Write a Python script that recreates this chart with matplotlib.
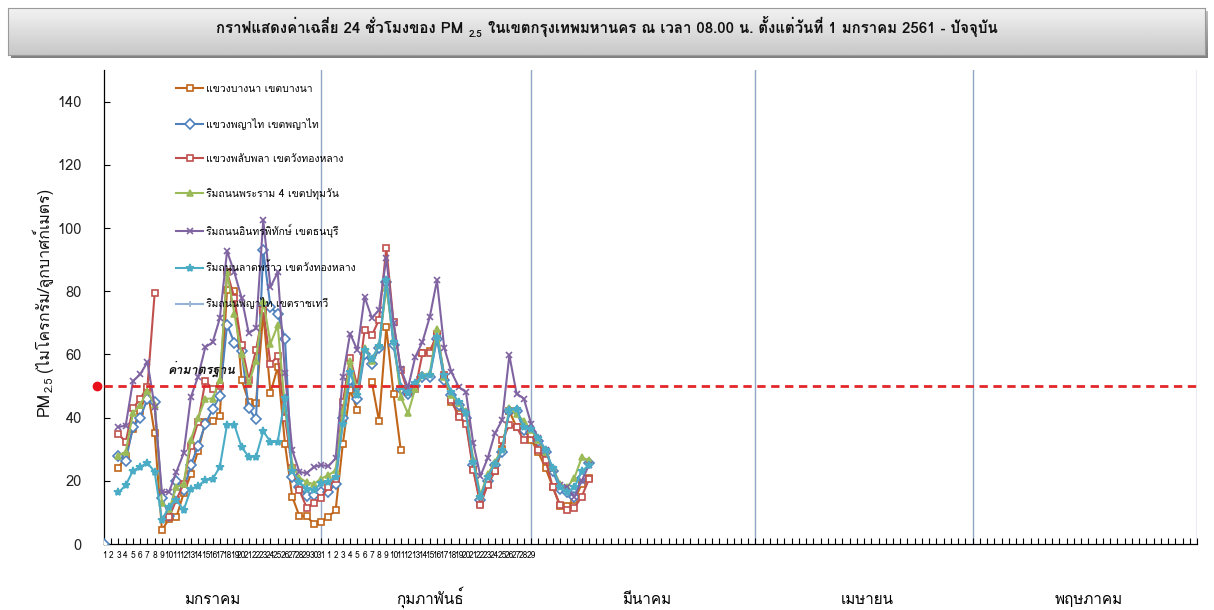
import numpy as np
import matplotlib
matplotlib.use("Agg")
import matplotlib.pyplot as plt
from matplotlib import font_manager, ft2font
from matplotlib.transforms import IdentityTransform

# ---- fonts: find something installed that can draw Thai ----
def thai_families():
    found = []
    for f in font_manager.fontManager.ttflist:
        try:
            cmap = ft2font.FT2Font(f.fname).get_charmap()
        except Exception:
            continue
        if 0x0E01 in cmap and 0x0E2A in cmap and f.name not in found:
            found.append(f.name)
    return found

thai = thai_families()
plt.rcParams["font.family"] = thai + ["DejaVu Sans"]
plt.rcParams["mathtext.fontset"] = "dejavusans"

# ---- data ----
month_names = ["มกราคม", "กุมภาพันธ์", "มีนาคม", "เมษายน", "พฤษภาคม"]
month_days = [31, 29, 31, 30, 31]
labelled_months = 2  # only Jan / Feb have day numbers
standard = 50

station_names = [
    "แขวงบางนา เขตบางนา",
    "แขวงพญาไท เขตพญาไท",
    "แขวงพลับพลา เขตวังทองหลาง",
    "ริมถนนพระราม 4 เขตปทุมวัน",
    "ริมถนนอินทรพิทักษ์ เขตธนบุรี",
    "ริมถนนลาดพร้าว เขตวังทองหลาง",
    "ริมถนนพญาไท เขตราชเทวี",
]

N = None
# values from 1 Jan (index 0), None = no reading
bangna = [N, N, 24, 28, 36.5, 42, 49, 35, 4.4, 8, 8.5, 16, 22, 29.5, 38.6, 38.9, 40.5,
          80.5, 80, 52, 45, 44.6, 73, 47.8, 56, 31.8, 15, 8.8, 8.8, 6.3, 7.1,
          8.6, 10.7, 31.8, 48.7, 42.5, N, 51.2, 38.9, 68.6, 47.4, 29.7, N, N, 60.3, 61,
          66, 53, 45, 41, 39, 24, 13, 19, 23, 30, 42, 37, 36, 33,
          29, 24, 18, 12, 12, 14, 19, 21]
phayathai = [0, N, 28, 26.3, 37, 40, 45.9, 45, 14.4, 9, 20, 17, 25, 31, 38, 42.6, 46.8,
             69.4, 63.7, 61.1, 42.9, 39.5, 92.9, 75, 72.7, 65, 21.3, 18.1, 15.2, 15.5, 16.5,
             16.5, 19, 40, 52, 46, 60, 57, 62, 83, 63, 49, 47.5, 50, 53, 53,
             65, 52, 47, 44, 40, 25, 14, 20, 25, 29, 42, 42, 36, 35.5,
             32.5, 29, 23, 17.5, 16.5, 15, 21, 25.5]
phlapphla = [N, N, 34.8, 32.3, 42.9, 46, 49.7, 79.4, N, 8.5, 14, 19, 31, 38.7, 51.5, 49.2, 50,
             86, 78, 63, 52, 61.3, 74, 57, 59.5, 40, 24, 17, 11.5, 13, 14.7,
             18, 20.7, 44.9, 59, 50, 67.6, 66, 71, 93.7, 70.2, 55, 48, 49, 60.3, 60.3,
             66.6, 53.4, 45.5, 40.2, 38.1, 23.5, 12.4, 18.7, 23, 33, 37.6, 37, 32.8, 34.9,
             29.7, 26.5, 18, 12.4, 10.7, 11.5, 15, 20.5]
rama4 = [N, N, 28, 29.2, 41.4, 44, 48.5, 44, 13, 11, 18, 19, 33, 40, 46, 46, 52,
         86, 72.9, 60, 50.8, 58, 77, 63.4, 69.2, 43, 25, 21, 19.5, 19, 20.7,
         21.8, 23.3, 42, 58, 48, 62, 58, 63, 81, 65, 46.5, 41.3, 49.2, 53.5, 54,
         68, 53, 47, 44.5, 42, 27, 15.5, 22, 26, 30, 43, 41, 39, 36,
         33, 29, 24, 19, 18, 21, 27.4, 26.5]
inthraphithak = [N, N, 37, 37.5, 51.5, 53.7, 57.6, 43.4, 16.3, 16.6, 22.8, 28.7, 46.5, 53, 62.3, 63.8, 71.4,
                 92.7, 86, 78, 66.7, 68.2, 102.4, 81.3, 86, 54.1, 29.7, 22.8, 22.4, 24.4, 25,
                 24.6, 27.1, 52.9, 66.6, 61.3, 78.2, 71.6, 74, 90.5, 69.8, 55.5, 49.4, 59.2, 64, 71.8,
                 83.4, 62.1, 54.4, 49.7, 48.1, 32, 21.5, 27.1, 35, 39.2, 59.7, 47.6, 46, 38.1,
                 33.4, 29.7, 23.6, 18.6, 18, 15, 20, 25]
latphrao = [N, N, 16.3, 18.6, 23.2, 24.4, 25.7, 22.8, 7.6, 11.8, 14, 10.7, 17.4, 18.4, 20.2, 20.5, 24.4,
            37.8, 37.8, 30.7, 27.6, 27.6, 35.7, 32.3, 32.3, 46.3, 23, 19.5, 17.5, 17, 19.2,
            19.7, 21.3, 38, 54.5, 47, 61.3, 58.7, 62.6, 83.4, 64, 49.7, 47.7, 51, 53.1, 53.4,
            65.5, 53.4, 48.1, 45, 41.3, 26, 14.9, 21.3, 25.4, 29.7, 42.3, 42.8, 37, 36.5,
            33.4, 29.9, 23.9, 18.1, 16.5, 18, 23, 25]
phayathai_road = []  # in the legend, no readings drawn

series = [bangna, phayathai, phlapphla, rama4, inthraphithak, latphrao, phayathai_road]
colors = ["#C0651A", "#4F81BD", "#C0504D", "#9BBB59", "#8064A2", "#4BACC6", "#95B3D7"]
markers = ["s", "D", "s", "^", "x", "*", "+"]
hollow = [True, True, True, False, False, False, False]

n_days = sum(month_days)
x = np.arange(n_days)

def padded(vals):
    arr = np.full(n_days, np.nan)
    for i, v in enumerate(vals):
        if v is not None:
            arr[i] = v
    return arr

# ---- figure ----
W, H = 1214, 610
fig = plt.figure(figsize=(W / 100, H / 100), dpi=100)
ax = fig.add_axes([104 / W, 1 - 544 / H, 1093 / W, 474 / H])

for vals, name, c, m, h in zip(series, station_names, colors, markers, hollow):
    ax.plot(x, padded(vals), color=c, lw=1.5, marker=m, ms=5 if m != "*" else 6,
            mfc="white" if h else c, mec=c, mew=1.2, label=name, zorder=3)

# month separators
ends = np.cumsum(month_days) - 1
for e in ends:
    ax.axvline(e, color="#8FA6C4", lw=1, zorder=1)

# standard line
ax.axhline(standard, color="#E3262A", lw=2, ls=(0, (3, 2)), zorder=4)
ax.plot([-1], [standard], "o", color="#E8101A", ms=6, clip_on=False, zorder=5)
ax.text(8.8, standard + 3.8, "ค่ามาตรฐาน", fontsize=9, fontweight="bold",
        style="italic", color="#111111", zorder=6)

ax.set_xlim(0, n_days - 1)
ax.set_ylim(0, 150)
ax.set_yticks(np.arange(0, 141, 20))
ticklabels = []
for k, d in enumerate(month_days):
    ticklabels += [str(i + 1) if k < labelled_months else "" for i in range(d)]
ax.set_xticks(x)
ax.set_xticklabels(ticklabels)
ax.tick_params(axis="x", direction="in", length=4, width=0.8, labelsize=6, pad=5)
ax.tick_params(axis="y", direction="in", length=4, width=0.8, labelsize=10.5, pad=16,
               labelcolor="#222222")
for s in ["top", "right"]:
    ax.spines[s].set_visible(False)
for s in ["left", "bottom"]:
    ax.spines[s].set_linewidth(0.9)

leg = ax.legend(loc="upper left", bbox_to_anchor=((176 - 104) / 1093, (544 - 84) / 474),
                frameon=False, fontsize=7.5, labelspacing=2.3, handlelength=2.6,
                handletextpad=0.3, borderpad=0, borderaxespad=0)

# month names under the axis
starts = np.concatenate([[0], ends[:-1] + 1])
for name, s0, e in zip(month_names, starts, ends):
    xc = ax.transData.transform(((s0 + e) / 2, 0))[0]
    fig.text(xc / W, 1 - 604 / H, name, ha="center", va="baseline", fontsize=11)

# ---- title box ----
tax = fig.add_axes([11 / W, 1 - 58 / H, 1197 / W, 47 / H], zorder=0)
tax.imshow(np.linspace(0.75, 0.5, 50).reshape(-1, 1), cmap="gray", vmin=0, vmax=1,
           aspect="auto", extent=(0, 1, 0, 1))
tax.set_axis_off()
bax = fig.add_axes([8 / W, 1 - 55 / H, 1197 / W, 47 / H], zorder=1)
bax.imshow(np.linspace(0.95, 0.78, 50).reshape(-1, 1), cmap="gray", vmin=0, vmax=1,
           aspect="auto", extent=(0, 1, 0, 1))
bax.set_xticks([])
bax.set_yticks([])
for s in bax.spines.values():
    s.set_color("#9A9A9A")
    s.set_linewidth(0.8)


def chain_text(pieces, cx, cy, vertical=False, weight="normal", zorder=5):
    """pieces: (text, drop, gap_after, size) placed end to end, centred at cx, cy (px)."""
    r = fig.canvas.get_renderer()
    lengths = []
    for s, drop, gap, size in pieces:
        t = fig.text(0, 0, s, fontsize=size, fontweight=weight)
        lengths.append(t.get_window_extent(r).width + gap)
        t.remove()
    pos = -sum(lengths) / 2
    for (s, drop, gap, size), ln in zip(pieces, lengths):
        if vertical:
            fig.text(cx + drop, H - cy + pos, s, fontsize=size, rotation=90,
                     rotation_mode="anchor", ha="left", va="baseline", fontweight=weight,
                     transform=IdentityTransform(), zorder=zorder, color="#111111")
        else:
            fig.text(cx + pos, H - cy - drop, s, fontsize=size, ha="left",
                     va="baseline", fontweight=weight, transform=IdentityTransform(),
                     zorder=zorder, color="#111111")
        pos += ln


chain_text([("กราฟแสดงค่าเฉลี่ย 24 ชั่วโมงของ PM", 0, 5, 10.8),
            ("2.5", 4, 6, 7.2),
            ("ในเขตกรุงเทพมหานคร ณ เวลา 08.00 น. ตั้งแต่วันที่ 1 มกราคม 2561 - ปัจจุบัน", 0, 0, 10.8)],
           607, 33, weight="bold")
chain_text([("PM", 0, 0, 11.5),
            ("2.5", 4, 5, 8),
            ("(ไมโครกรัม/ลูกบาศก์เมตร)", 0, 0, 11.5)],
           49, 302, vertical=True)

fig.savefig("out.png", dpi=100)
